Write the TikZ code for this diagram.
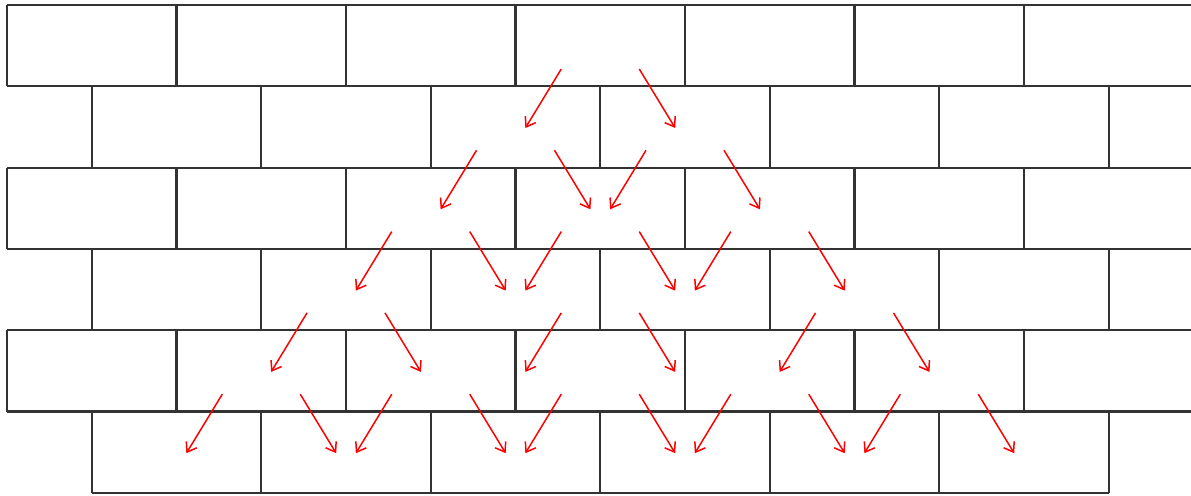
\documentclass[tikz,border=0pt]{standalone}
\usetikzlibrary{arrows.meta}

\begin{document}
\begin{tikzpicture}[
        x=3.39cm, y=-1.626cm,
        ladrillo/.style={
            draw=black!80,
            line width=1.2pt
        },
        flecha/.style={
            draw=red,
            line width=0.85pt,
            -{Straight Barb[length=5pt, width=7pt]}
        }
    ]
        \useasboundingbox (-0.0413,-0.0615) rectangle (6.985,6.039);
        % juntas horizontales
        \foreach \f in {0,...,5}
            \draw[ladrillo] (0,\f) -- (6.985,\f);
        \draw[ladrillo] (0.5,6) -- (6.5,6);
        % juntas verticales
        \foreach \f in {0,2,4}
            \foreach \k in {0,...,6}
                \draw[ladrillo] (\k,\f) -- (\k,\f+1);
        \foreach \f in {1,3,5}
            \foreach \k in {0,...,6}
                \draw[ladrillo] (\k+0.5,\f) -- (\k+0.5,\f+1);
        % flechas (fila/centro)
        \foreach \f/\c in {
            0/3.5,
            1/3, 1/4,
            2/2.5, 2/3.5, 2/4.5,
            3/2, 3/3.5, 3/5,
            4/1.5, 4/2.5, 4/3.5, 4/4.5, 4/5.5
        } {
            \draw[flecha] (\c-0.23,\f+0.787) -- (\c-0.442,\f+1.513);
            \draw[flecha] (\c+0.23,\f+0.787) -- (\c+0.442,\f+1.513);
        }
    \end{tikzpicture}
\end{document}
